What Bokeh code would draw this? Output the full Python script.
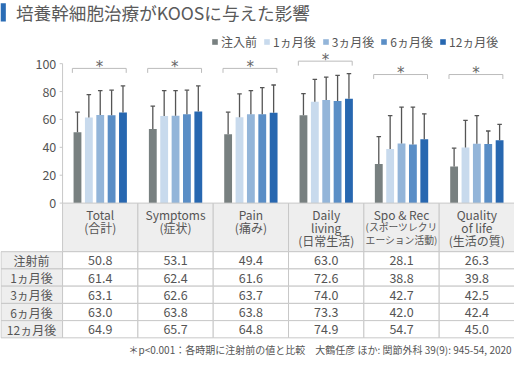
from bokeh.plotting import figure
from bokeh.models import Range1d, Legend, LegendItem
from bokeh.core.properties import value
from bokeh.embed import file_html
from bokeh.resources import INLINE

# ---------------- data ----------------
title_text = "培養幹細胞治療がKOOSに与えた影響"
categories = ["Total", "Symptoms", "Pain", "Daily living", "Spo & Rec", "Quality of life"]
header_lines = [["Total", "(合計)"], ["Symptoms", "(症状)"], ["Pain", "(痛み)"],
                ["Daily", "living", "(日常生活)"],
                ["Spo & Rec", "(スポーツレクリ", "エーション活動)"],
                ["Quality", "of life", "(生活の質)"]]
series_names = ["注入前", "1ヵ月後", "3ヵ月後", "6ヵ月後", "12ヵ月後"]
row_labels = ["注射前", "1ヵ月後", "3ヵ月後", "6ヵ月後", "12ヵ月後"]

# bar heights as drawn in the chart
mean_pre = [50.8, 53.1, 49.4, 63.0, 28.1, 26.3]
mean_m1 = [61.4, 62.4, 61.6, 72.6, 38.8, 39.8]
mean_m3 = [63.1, 62.6, 63.7, 74.0, 42.7, 42.5]
mean_m6 = [63.0, 63.8, 63.8, 73.3, 42.0, 42.4]
mean_m12 = [64.9, 65.7, 64.8, 74.9, 45.7, 45.0]

# standard deviations (upper error bars)
sd_pre = [14.4, 16.5, 15.8, 15.5, 19.5, 13.1]
sd_m1 = [16.4, 18.2, 16.7, 16.2, 23.9, 19.5]
sd_m3 = [17.5, 18.0, 16.9, 16.4, 26.2, 20.2]
sd_m6 = [18.0, 17.2, 19.0, 18.3, 26.9, 9.3]
sd_m12 = [19.1, 18.3, 19.9, 18.0, 18.3, 11.5]

# values printed in the table
table_pre = [50.8, 53.1, 49.4, 63.0, 28.1, 26.3]
table_m1 = [61.4, 62.4, 61.6, 72.6, 38.8, 39.8]
table_m3 = [63.1, 62.6, 63.7, 74.0, 42.7, 42.5]
table_m6 = [63.0, 63.8, 63.8, 73.3, 42.0, 42.4]
table_m12 = [64.9, 65.7, 64.8, 74.9, 54.7, 45.0]

sig_level = [96.6, 96.6, 96.6, 101.8, 92.2, 92.2]
sig_mark = "*"
y_ticks = [0, 20, 40, 60, 80, 100]
footnote = "＊p<0.001：各時期に注射前の値と比較　大鶴任彦 ほか: 関節外科 39(9): 945-54, 2020"

colors = ["#788080", "#c8daed", "#93b5d9", "#5a8ec6", "#2767b0"]
means = [mean_pre, mean_m1, mean_m3, mean_m6, mean_m12]
sds = [sd_pre, sd_m1, sd_m3, sd_m6, sd_m12]
tables = [table_pre, table_m1, table_m3, table_m6, table_m12]

# ---------------- layout helpers ----------------
W, H = 514, 356
COLW = 77.67            # reference px per category column
Y0, PXU = 211.7, 1.457  # reference px of value 0, px per unit


def X(rx):
    return (rx - 64.0) / COLW


def V(ry):
    return (Y0 - ry) / PXU


FONT = value("Noto Sans CJK JP")
TXT = "#555555"
GRID = "#c8c8c8"

p = figure(width=W, height=H, output_backend="svg", toolbar_location=None,
           x_range=Range1d(X(0), X(530)), y_range=Range1d(V(372), V(0)),
           x_axis_location=None, y_axis_location=None, min_border=0)
p.grid.visible = False
p.outline_line_color = None
p.background_fill_color = "white"
p.border_fill_color = "white"

# title
p.quad(left=[X(0)], right=[X(5.5)], top=[V(3)], bottom=[V(22)],
       fill_color="#2a6cb5", line_color=None)
p.text(x=[X(16)], y=[V(13)], text=[title_text], text_font=FONT,
       text_font_size="17.6px", text_color="#5a5a5a", text_baseline="middle", text_align="left")

# y axis (drawn through the data scales)
p.segment(x0=[0], y0=[0], x1=[0], y1=[y_ticks[-1]], line_color=GRID, line_width=1)
p.segment(x0=[X(61)] * len(y_ticks), y0=y_ticks, x1=[0] * len(y_ticks), y1=y_ticks,
          line_color=GRID, line_width=1)
p.text(x=[X(57.5)] * len(y_ticks), y=y_ticks, text=[str(t) for t in y_ticks],
       text_font=FONT, text_font_size="12.5px", text_color=TXT,
       text_align="right", text_baseline="middle")

# bars + error bars
PITCH, BW, CAP = 0.151, 0.104, 0.03
items = []
n = len(categories)
for k in range(5):
    xs = [i + 0.5 + (k - 2) * PITCH for i in range(n)]
    r = p.vbar(x=xs, top=means[k], bottom=0, width=BW, fill_color=colors[k], line_color=None)
    items.append(LegendItem(label=series_names[k], renderers=[r]))
    tops = [m + s for m, s in zip(means[k], sds[k])]
    p.segment(x0=xs, y0=means[k], x1=xs, y1=tops, line_color="#555555", line_width=1.3)
    p.segment(x0=[x - CAP for x in xs], y0=tops, x1=[x + CAP for x in xs], y1=tops,
              line_color="#555555", line_width=1.3)

# significance brackets
bx, by = [], []
for i, lv in enumerate(sig_level):
    l, rr = i + 0.5 - 0.37, i + 0.5 + 0.345
    bx.append([l, l, rr, rr])
    by.append([lv - 3.2, lv, lv, lv - 3.2])
p.multi_line(xs=bx, ys=by, line_color="#bbbbbb", line_width=1)
p.text(x=[i + 0.49 for i in range(n)], y=[lv + 1.0 for lv in sig_level], text=[sig_mark] * n,
       text_font=value("DejaVu Sans"), text_font_size="15px", text_color="#666666",
       text_align="center", text_baseline="middle")

# table
ROW0, ROWH = 262.5, 18.0
p.quad(left=list(range(n)), right=[i + 1 for i in range(n)], top=[0] * n,
       bottom=[V(ROW0)] * n, fill_color="#eeeeee", line_color=GRID, line_width=1)
for i, lines in enumerate(header_lines):
    for j, t in enumerate(lines):
        kana = any("\u30a0" <= c <= "\u30ff" for c in t)
        p.text(x=[i + 0.5], y=[V(224 + 13.2 * j)], text=[t], text_font=FONT,
               text_font_size="9.8px" if kana else "12px",
               text_color=TXT, text_align="center", text_baseline="middle")

for r in range(5):
    top, bot = V(ROW0 + ROWH * r), V(ROW0 + ROWH * (r + 1))
    p.quad(left=[X(0.5)], right=[0], top=[top], bottom=[bot],
           fill_color="#eeeeee", line_color=GRID, line_width=1)
    p.quad(left=list(range(n)), right=[i + 1 for i in range(n)], top=[top] * n,
           bottom=[bot] * n, fill_color="white", line_color=GRID, line_width=1)
    yc = V(ROW0 + ROWH * (r + 0.5))
    p.text(x=[X(32)], y=[yc], text=[row_labels[r]], text_font=FONT, text_font_size="12px",
           text_color=TXT, text_align="center", text_baseline="middle")
    p.text(x=[i + 0.5 for i in range(n)], y=[yc] * n, text=[f"{v:.1f}" for v in tables[r]],
           text_font=FONT, text_font_size="12.5px", text_color=TXT,
           text_align="center", text_baseline="middle")

# footnote
p.text(x=[X(527)], y=[V(365)], text=[footnote], text_font=FONT, text_font_size="10px",
       text_color=TXT, text_align="right", text_baseline="middle")

legend = Legend(items=items, orientation="horizontal", location=(211, 306),
                glyph_width=7, glyph_height=7, label_standoff=3, spacing=6,
                padding=0, margin=0, label_height=12,
                label_text_font="Noto Sans CJK JP", label_text_font_size="12px",
                label_text_color=TXT, border_line_alpha=0, background_fill_alpha=0)
p.add_layout(legend)

open("out.html", "w").write(file_html(p, INLINE))
